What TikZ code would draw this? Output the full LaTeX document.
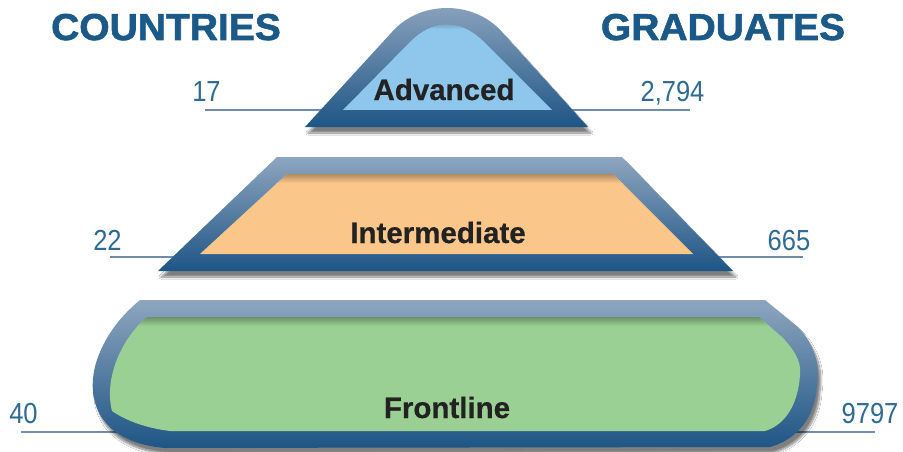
\documentclass[tikz,border=0pt]{standalone}
\usepackage{fontspec}
\setmainfont{Liberation Sans}
\newfontfamily\numfont[FakeStretch=0.88]{Liberation Sans}
\newfontfamily\headfont[FakeBold=1.6,FakeStretch=1.04]{Liberation Sans Bold}
\newfontfamily\tierfont[FakeBold=0.6]{Liberation Sans Bold}
\usetikzlibrary{shadows.blur}
\definecolor{headblue}{HTML}{1B5A88}
\definecolor{numblue}{HTML}{2E6B93}
\definecolor{linecol}{HTML}{6F8DAA}
\definecolor{bandtop}{HTML}{8EA5BF}
\definecolor{bandbot}{HTML}{1E5585}
\definecolor{advfill}{HTML}{8EC6EC}
\definecolor{intfill}{HTML}{FAC68A}
\definecolor{frofill}{HTML}{9BD094}
\definecolor{labtext}{HTML}{222222}
\tikzset{
  heading/.style={font=\headfont\fontsize{37.5}{37.5}\selectfont, text=headblue, anchor=base, inner sep=0pt},
  numlabel/.style={font=\numfont\fontsize{29}{29}\selectfont, text=numblue, anchor=base, inner sep=0pt},
  tierlabel/.style={font=\tierfont\fontsize{29.5}{29.5}\selectfont, text=labtext, anchor=base, inner sep=0pt},
  leader/.style={draw=linecol, line width=1.5pt},
  band/.style={top color=bandtop, bottom color=bandbot, shading=axis,
    blur shadow={shadow xshift=3pt, shadow yshift=-6pt, shadow blur steps=10, shadow opacity=50}},
}
\newcommand{\innershade}[3]{%
  \fill[#2] #1;
  \begin{scope}
    \clip #1;
    \shade[top color=#2!70!black, bottom color=#2] (0,#3) rectangle (903,#3+9);
  \end{scope}}
\begin{document}
\begin{tikzpicture}[x=1pt,y=-1pt]
\useasboundingbox (0,0) rectangle (903,452);
\fill[white] (0,0) rectangle (903,452);

% headings
\node[heading] (hc) at (166,40) {COUNTRIES};
\node[heading] (hg) at (723,40) {GRADUATES};

% leader coordinates
\coordinate (l17a) at (205,110);  \coordinate (l17b) at (330,110);
\coordinate (r27a) at (565,110);  \coordinate (r27b) at (690,110);
\coordinate (l22a) at (110,257);  \coordinate (l22b) at (180,257);
\coordinate (r66a) at (715,257);  \coordinate (r66b) at (803,257);
\coordinate (l40a) at (21,432);   \coordinate (l40b) at (120,432);
\coordinate (r97a) at (790,432);  \coordinate (r97b) at (875,432);
\draw[leader] (l17a) -- (l17b);
\draw[leader] (r27a) -- (r27b);
\draw[leader] (l22a) -- (l22b);
\draw[leader] (r66a) -- (r66b);
\draw[leader] (l40a) -- (l40b);
\draw[leader] (r97a) -- (r97b);

% numbers
\node[numlabel] (n17) at (206.5,102) {17};
\node[numlabel] (n2794) at (672.5,102) {2,794};
\node[numlabel] (n22) at (107.5,250) {22};
\node[numlabel] (n665) at (789,250) {665};
\node[numlabel] (n40) at (23.5,423) {40};
\node[numlabel] (n9797) at (870,423) {9797};

% Advanced tier
\path[band] (305,127) -- (392,32) .. controls (420,0) and (474,0) .. (502,32) -- (588,127) -- cycle;
\innershade{(343,110) -- (410,42) .. controls (432,19) and (462,19) .. (484,42) -- (552,110) -- cycle}{advfill}{20}

% Intermediate tier
\path[band] (277,157) -- (622,157) -- (733,271) -- (158,271) -- cycle;
\innershade{(287,174) -- (613,174) -- (693,254) -- (200,254) -- cycle}{intfill}{174}

% Frontline tier
\path[band] (140,300) -- (765,300) -- (798,327) .. controls (815,345) and (820,365) .. (817,385)
  .. controls (815,420) and (795,440) .. (770,447) -- (165,448)
  .. controls (95,442) and (84,395) .. (98,357) .. controls (107,333) and (122,315) .. (140,300) -- cycle;
\innershade{(147,317) -- (759,317) -- (783,338) .. controls (792,348) and (802,360) .. (800,375)
  .. controls (798,405) and (785,425) .. (765,431) -- (170,431)
  .. controls (145,428) and (125,420) .. (112,411) .. controls (104,380) and (120,340) .. (147,317) -- cycle}{frofill}{317}

% tier labels
\node[tierlabel] (tadv) at (444,100) {Advanced};
\node[tierlabel] (tint) at (438,243) {Intermediate};
\node[tierlabel] (tfro) at (447,418) {Frontline};
\end{tikzpicture}
\end{document}
